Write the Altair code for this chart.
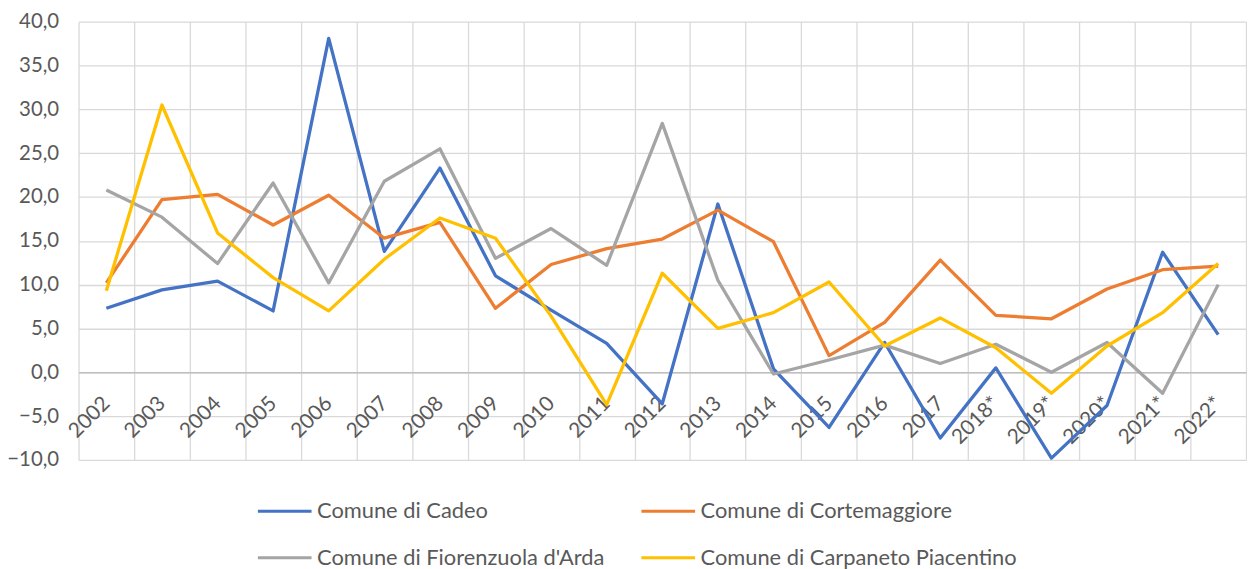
import altair as alt
import pandas as pd

years = ["2002", "2003", "2004", "2005", "2006", "2007", "2008", "2009", "2010",
         "2011", "2012", "2013", "2014", "2015", "2016", "2017", "2018*", "2019*",
         "2020*", "2021*", "2022*"]

cadeo = [7.3, 9.4, 10.4, 7.0, 38.1, 13.8, 23.3, 11.0, 7.1, 3.3, -3.6, 19.2,
         0.4, -6.3, 3.4, -7.5, 0.5, -9.8, -3.8, 13.7, 4.3]
cortemaggiore = [10.2, 19.7, 20.3, 16.8, 20.2, 15.3, 17.1, 7.3, 12.3, 14.1, 15.2,
                 18.5, 14.9, 1.9, 5.7, 12.8, 6.5, 6.1, 9.5, 11.7, 12.1]
fiorenzuola = [20.8, 17.7, 12.4, 21.6, 10.2, 21.8, 25.5, 13.0, 16.4, 12.2, 28.4,
               10.5, -0.2, 1.4, 3.1, 1.0, 3.2, 0.0, 3.4, -2.4, 10.0]
carpaneto = [9.3, 30.5, 15.9, 10.8, 7.0, 12.9, 17.6, 15.3, 6.4, -3.7, 11.3, 5.0,
             6.8, 10.3, 3.0, 6.2, 2.8, -2.4, 3.0, 6.8, 12.4]

series_names = ["Comune di Cadeo", "Comune di Cortemaggiore",
                "Comune di Fiorenzuola d'Arda", "Comune di Carpaneto Piacentino"]
series_values = [cadeo, cortemaggiore, fiorenzuola, carpaneto]
colors = ["#4472C4", "#ED7D31", "#A5A5A5", "#FFC000"]

rows = []
for si, (name, vals) in enumerate(zip(series_names, series_values)):
    for y, v in zip(years, vals):
        rows.append({"anno": y, "valore": v, "serie": name, "ord": si})
df = pd.DataFrame(rows)

FONT = "Lato"
W, H = 1175, 441

chart = alt.Chart(df).mark_line(strokeWidth=3.3, strokeJoin="round").encode(
    x=alt.X("anno:O", sort=years,
            scale=alt.Scale(type="band", paddingInner=0, paddingOuter=0),
            axis=alt.Axis(title=None, tickBand="extent", grid=True,
                          gridColor="#d9d9d9", gridWidth=1.3,
                          ticks=False, domain=True, domainColor="#bfbfbf",
                          domainWidth=1.3, offset=-88.2,
                          labelAngle=-45, labelAlign="right",
                          labelBaseline="middle", labelPadding=28,
                          labelFont=FONT, labelFontSize=21,
                          labelColor="#595959")),
    y=alt.Y("valore:Q",
            scale=alt.Scale(domain=[-10, 40], nice=False, zero=False),
            axis=alt.Axis(title=None, values=list(range(-10, 41, 5)),
                          grid=True, gridColor="#d9d9d9", gridWidth=1.3,
                          domain=False, ticks=False, labelPadding=20,
                          labelExpr="replace(format(datum.value, '.1f'), '.', ',')",
                          labelFont=FONT, labelFontSize=20.5,
                          labelColor="#595959")),
    color=alt.Color("serie:N", sort=series_names,
                    scale=alt.Scale(domain=series_names, range=colors),
                    legend=alt.Legend(title=None, orient="none",
                                      direction="horizontal",
                                      legendX=179, legendY=464,
                                      columns=2, columnPadding=30,
                                      rowPadding=7, padding=0,
                                      symbolType="stroke", symbolSize=2916,
                                      symbolStrokeWidth=3, labelOffset=4,
                                      labelLimit=0,
                                      labelFont=FONT, labelFontSize=22,
                                      labelColor="#595959")),
    order=alt.Order("ord:Q"),
).properties(
    width=W, height=H,
    autosize=alt.AutoSizeParams(type="none"),
    padding={"left": 71, "top": 12, "right": 1, "bottom": 108},
).configure_view(stroke=None)

chart.save("out.html", embed_options={"renderer": "svg", "actions": False})
